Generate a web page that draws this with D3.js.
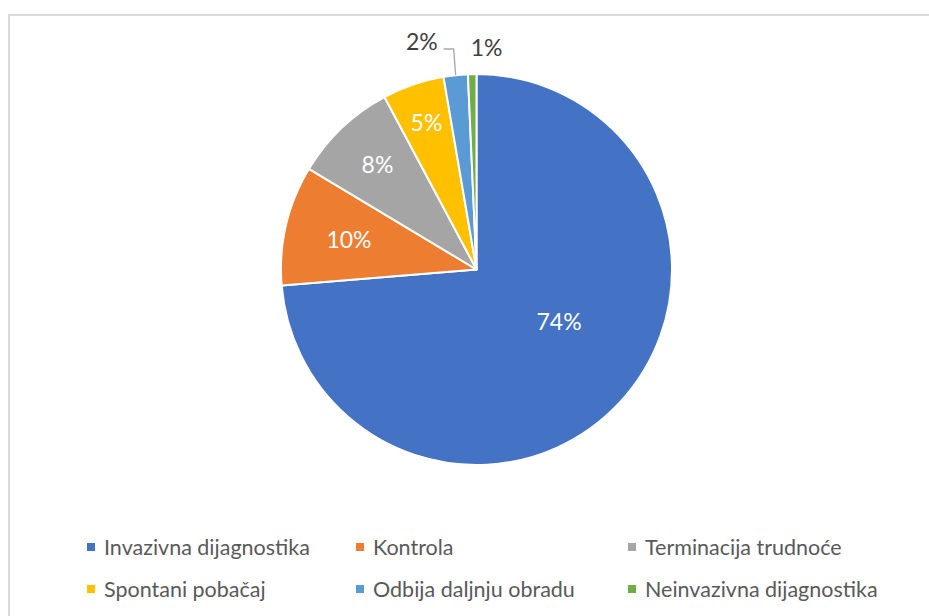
<!DOCTYPE html>
<html><head><meta charset="utf-8">
<script src="https://cdn.jsdelivr.net/npm/d3@7"></script>
<style>html,body{margin:0;padding:0;background:#fff;}svg{display:block;}</style>
</head><body>
<svg id="chart" width="929" height="616"></svg>
<script>
const categories = ["Invazivna dijagnostika","Kontrola","Terminacija trudnoće","Spontani pobačaj","Odbija daljnju obradu","Neinvazivna dijagnostika"];
const values = [73.7, 9.9, 8.6, 5.1, 2.0, 0.7];
const labels = ["74%","10%","8%","5%","2%","1%"];
const colors = ["#4472C4","#ED7D31","#A5A5A5","#FFC000","#5B9BD5","#70AD47"];

const svg = d3.select("#chart");
const font = "Lato, 'Open Sans', sans-serif";

// chart border
svg.append("rect").attr("x",9).attr("y",15).attr("width",940).attr("height",620)
  .attr("fill","none").attr("stroke","#d9d9d9").attr("stroke-width",2);

const cx = 476.5, cy = 269.5, R = 195.5;
const g = svg.append("g").attr("transform",`translate(${cx},${cy})`);
const pie = d3.pie().sort(null).value(d=>d)(values);
const arc = d3.arc().innerRadius(0).outerRadius(R);
g.selectAll("path").data(pie).join("path")
  .attr("d",arc).attr("fill",(d,i)=>colors[i])
  .attr("stroke","#fff").attr("stroke-width",2).attr("stroke-linejoin","round");

// inside labels
const labelFrac = [0.5, 0.67, 0.735, 0.79];
const angleShift = [-0.18, 0, 0, 0];
pie.slice(0,4).forEach((d,i)=>{
  const a = (d.startAngle+d.endAngle)/2 + angleShift[i];
  const r = R*labelFrac[i];
  g.append("text").attr("x",Math.sin(a)*r).attr("y",-Math.cos(a)*r)
    .attr("text-anchor","middle").attr("dy","0.35em")
    .attr("fill","#fff").attr("font-family",font).attr("font-size",23)
    .text(labels[i]);
});

// outside labels
const lb = pie[4], lg = pie[5];
const a4 = (lb.startAngle+lb.endAngle)/2;
const p0 = [Math.sin(a4)*R, -Math.cos(a4)*R];
const elbowY = -R-25;
g.append("polyline")
  .attr("points",`${p0[0]},${p0[1]} ${p0[0]-2},${elbowY} ${p0[0]-12},${elbowY}`)
  .attr("fill","none").attr("stroke","#a6a6a6").attr("stroke-width",1.3);
g.append("text").attr("x",p0[0]-18).attr("y",elbowY+1)
  .attr("text-anchor","end").attr("fill","#404040").attr("font-family",font).attr("font-size",23)
  .text(labels[4]);
const a5 = (lg.startAngle+lg.endAngle)/2;
g.append("text").attr("x",Math.sin(a5)*(R+27)+15).attr("y",-Math.cos(a5)*(R+27)+1)
  .attr("text-anchor","middle").attr("dy","0.35em")
  .attr("fill","#404040").attr("font-family",font).attr("font-size",23)
  .text(labels[5]);

// legend
const colX = [87, 356, 628];
const rowY = [547, 589];
categories.forEach((c,i)=>{
  const x = colX[i%3], y = rowY[Math.floor(i/3)];
  const lgI = svg.append("g").attr("transform",`translate(${x},${y})`);
  lgI.append("rect").attr("x",0).attr("y",-4).attr("width",8).attr("height",8).attr("fill",colors[i]);
  lgI.append("text").attr("x",17).attr("y",0).attr("dy","0.35em")
    .attr("fill","#595959").attr("font-family",font).attr("font-size",21.5).text(c);
});
</script>
</body></html>
